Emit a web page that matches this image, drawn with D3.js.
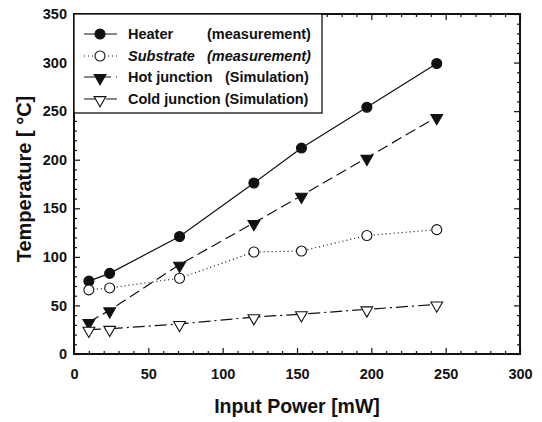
<!DOCTYPE html>
<html>
<head>
<meta charset="utf-8">
<script src="https://cdn.jsdelivr.net/npm/d3@7"></script>
<style>
  body { margin: 0; background: #fff; }
  svg text { font-family: "Liberation Sans", Arial, sans-serif; fill: #111; }
</style>
</head>
<body>
<div id="chart"></div>
<script>
// values
const powerMW = [10, 24, 71, 121, 153, 197, 244];
const heaterC = [75, 83, 121, 176, 212, 254, 299];
const substrateC = [66, 68, 78, 105, 106, 122, 128];
const hotJunctionC = [33, 45, 92, 135, 163, 202, 244];
const coldJunctionC = [25, 26, 31, 38, 41, 46, 51];

const xTicks = [0, 50, 100, 150, 200, 250, 300];
const yTicks = [0, 50, 100, 150, 200, 250, 300, 350];

const seriesNames = ["Heater", "Substrate", "Hot junction", "Cold junction"];
const seriesNotes = ["(measurement)", "(measurement)", "(Simulation)", "(Simulation)"];

const width = 542, height = 422;
const margin = { top: 14, right: 22, bottom: 68, left: 74 };

const x = d3.scaleLinear().domain([0, 300]).range([margin.left, width - margin.right]);
const y = d3.scaleLinear().domain([0, 350]).range([height - margin.bottom, margin.top]);

const svg = d3.select("#chart").append("svg")
  .attr("width", width)
  .attr("height", height);

const ink = "#111";

// series styling
const series = [
  { name: seriesNames[0], note: seriesNotes[0], values: heaterC, dash: null, marker: "circle", fill: ink, italic: false, noteX: 207 },
  { name: seriesNames[1], note: seriesNotes[1], values: substrateC, dash: "1,3", marker: "circle", fill: "#fff", italic: true, noteX: 207 },
  { name: seriesNames[2], note: seriesNotes[2], values: hotJunctionC, dash: "11,5", marker: "tri", fill: ink, italic: false, noteX: 225 },
  { name: seriesNames[3], note: seriesNotes[3], values: coldJunctionC, dash: "12,4,2,4", marker: "tri", fill: "#fff", italic: false, noteX: null }
];

// minor ticks every 10
const xMinor = d3.range(0, 301, 10).filter(v => v % 50 !== 0);
const yMinor = d3.range(0, 351, 10).filter(v => v % 50 !== 0);

function styleAxis(g) {
  g.select(".domain").remove();
  g.selectAll(".tick line").attr("stroke", ink).attr("stroke-width", 1.2);
  g.selectAll("text")
    .style("font-size", "14.5px")
    .style("font-weight", "bold")
    .attr("fill", ink);
}

const bottomY = y(0), topY = y(350), leftX = x(0), rightX = x(300);

// bottom axis
svg.append("g").attr("transform", `translate(0,${bottomY})`)
  .call(d3.axisBottom(x).tickValues(xTicks).tickSize(-6).tickPadding(15))
  .call(styleAxis);
svg.append("g").attr("transform", `translate(0,${bottomY})`)
  .call(d3.axisBottom(x).tickValues(xMinor).tickSize(-3).tickFormat(""))
  .call(styleAxis);
// top axis
svg.append("g").attr("transform", `translate(0,${topY})`)
  .call(d3.axisTop(x).tickValues(xTicks).tickSize(-6).tickFormat(""))
  .call(styleAxis);
svg.append("g").attr("transform", `translate(0,${topY})`)
  .call(d3.axisTop(x).tickValues(xMinor).tickSize(-3).tickFormat(""))
  .call(styleAxis);
// left axis
svg.append("g").attr("transform", `translate(${leftX},0)`)
  .call(d3.axisLeft(y).tickValues(yTicks).tickSize(-6).tickPadding(7))
  .call(styleAxis);
svg.append("g").attr("transform", `translate(${leftX},0)`)
  .call(d3.axisLeft(y).tickValues(yMinor).tickSize(-3).tickFormat(""))
  .call(styleAxis);
// right axis
svg.append("g").attr("transform", `translate(${rightX},0)`)
  .call(d3.axisRight(y).tickValues(yTicks).tickSize(-6).tickFormat(""))
  .call(styleAxis);
svg.append("g").attr("transform", `translate(${rightX},0)`)
  .call(d3.axisRight(y).tickValues(yMinor).tickSize(-3).tickFormat(""))
  .call(styleAxis);

// frame
svg.append("rect")
  .attr("x", leftX).attr("y", topY)
  .attr("width", rightX - leftX).attr("height", bottomY - topY)
  .attr("fill", "none").attr("stroke", ink).attr("stroke-width", 2);

// axis titles
svg.append("text")
  .attr("x", (leftX + rightX) / 2).attr("y", 413)
  .attr("text-anchor", "middle")
  .style("font-size", "19.5px").style("font-weight", "bold")
  .text("Input Power [mW]");

svg.append("text")
  .attr("transform", "translate(31,179) rotate(-90)")
  .attr("text-anchor", "middle")
  .style("font-size", "20px").style("font-weight", "bold")
  .text("Temperature [ \u00B0C]");

const line = d3.line().x(d => x(d[0])).y(d => y(d[1]));
const triangle = d3.symbol().type(d3.symbolTriangle).size(60);

function drawMarker(g, s, cx, cy) {
  if (s.marker === "circle") {
    g.append("circle").attr("cx", cx).attr("cy", cy).attr("r", 5)
      .attr("fill", s.fill).attr("stroke", ink).attr("stroke-width", 1.1);
  } else {
    g.append("path").attr("d", triangle())
      .attr("transform", `translate(${cx},${cy + 1}) rotate(180)`)
      .attr("fill", s.fill).attr("stroke", ink).attr("stroke-width", 1.1);
  }
}

// data lines + markers
series.forEach(s => {
  const pts = powerMW.map((p, i) => [p, s.values[i]]);
  svg.append("path")
    .attr("d", line(pts))
    .attr("fill", "none")
    .attr("stroke", ink)
    .attr("stroke-width", 1.2)
    .attr("stroke-dasharray", s.dash);
  const g = svg.append("g");
  pts.forEach(p => drawMarker(g, s, x(p[0]), y(p[1])));
});

// legend
const legend = svg.append("g");
legend.append("rect")
  .attr("x", leftX).attr("y", topY)
  .attr("width", 322 - leftX).attr("height", 113 - topY)
  .attr("fill", "#fff").attr("stroke", ink).attr("stroke-width", 1.3);

const rowY = [34, 56, 77, 99];
series.forEach((s, i) => {
  const ry = rowY[i];
  legend.append("line")
    .attr("x1", 84).attr("x2", 117).attr("y1", ry).attr("y2", ry)
    .attr("stroke", ink).attr("stroke-width", 1.2)
    .attr("stroke-dasharray", s.dash);
  drawMarker(legend, s, 100, ry);
  const t = legend.append("text")
    .attr("x", 128).attr("y", ry + 5)
    .style("font-size", "14.5px").style("font-weight", "bold")
    .style("font-style", s.italic ? "italic" : "normal");
  if (s.noteX === null) {
    t.text(s.name + " " + s.note);
  } else {
    t.text(s.name);
    legend.append("text")
      .attr("x", s.noteX).attr("y", ry + 5)
      .style("font-size", "14.5px").style("font-weight", "bold")
      .style("font-style", s.italic ? "italic" : "normal")
      .text(s.note);
  }
});
</script>
</body>
</html>
